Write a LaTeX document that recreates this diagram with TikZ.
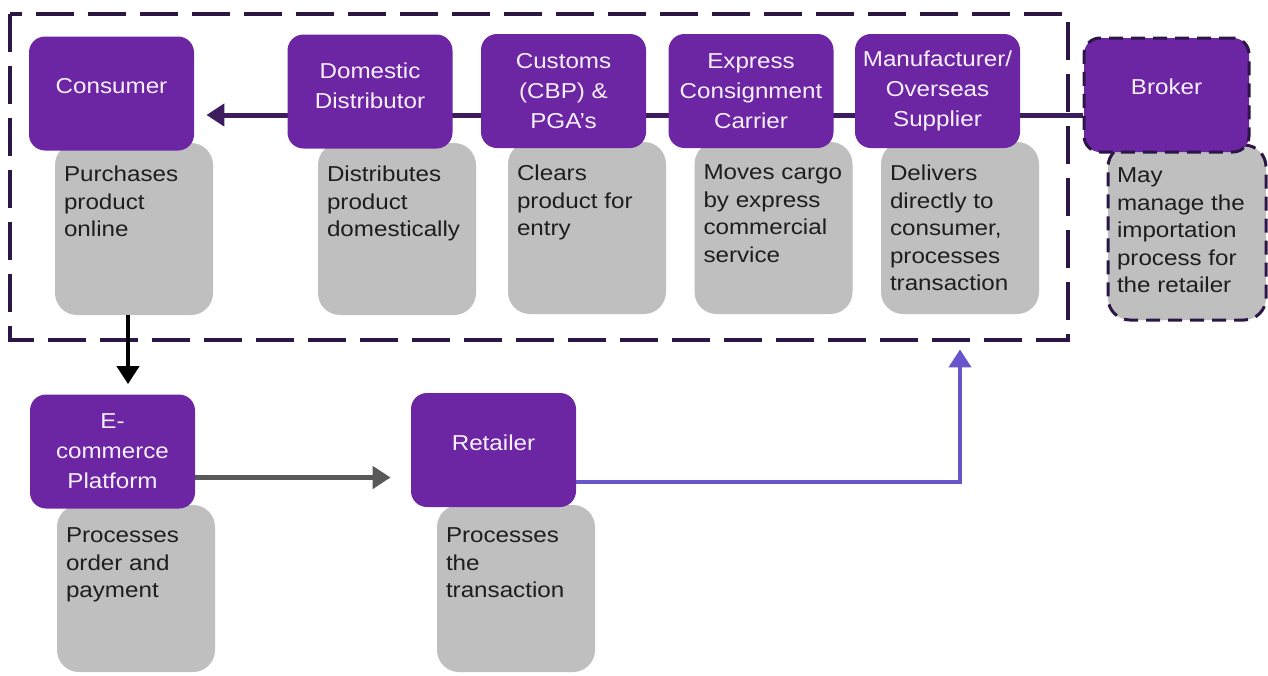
\documentclass[tikz,border=0pt]{standalone}
\usepackage{fontspec}
\setmainfont{Liberation Sans}[FakeStretch=1.12]
\usetikzlibrary{arrows.meta}
\usetikzlibrary{backgrounds}

\definecolor{boxpurple}{RGB}{108,38,163}
\definecolor{descgray}{RGB}{191,191,191}
\definecolor{framepurple}{RGB}{43,22,70}
\definecolor{flowpurple}{RGB}{60,28,95}
\definecolor{retailblue}{RGB}{104,84,204}
\definecolor{arrowgray}{RGB}{89,89,89}
\definecolor{textdark}{RGB}{30,30,30}
\definecolor{textlight}{RGB}{248,240,255}

\newcommand{\desctext}[2][86pt]{\parbox[c][#1][t]{70pt}{\raggedright\vspace*{11.5pt}#2}}

\begin{document}
\begin{tikzpicture}[x=0.5pt,y=-0.5pt]
    \tikzset{actor/.style = {shape=rectangle,rounded corners=8pt,fill=boxpurple,text=textlight,
        minimum width=82.5pt,minimum height=57pt,align=center,inner sep=2pt,
        font=\fontsize{10.8pt}{15pt}\selectfont}}
    \tikzset{desc/.style = {shape=rectangle,rounded corners=11pt,fill=descgray,text=textdark,
        inner xsep=4.5pt,inner ysep=0pt,font=\fontsize{10.8pt}{13.75pt}\selectfont}}
    \tikzset{dashbox/.style = {draw=framepurple,line width=1.5pt,dash pattern=on 7pt off 4pt}}
    \tikzset{frame/.style = {draw=framepurple,line width=2pt,dash pattern=on 19pt off 7pt}}
    \tikzset{edge/.style = {line width=2.5pt,-{Triangle[length=9pt,width=11pt]}}}

    \useasboundingbox (0,0) rectangle (1268,675);

    % frame
    \draw[frame] (10,14) rectangle (1068,340);

    % descriptions
    \node[desc] (cd) at (134,229) {\desctext{Purchases\\product\\online}};
    \node[desc] (dd) at (397,229) {\desctext{Distributes\\product\\domestically}};
    \node[desc] (pd) at (587,228) {\desctext{Clears\\product for\\entry}};
    \node[desc] (xd) at (773.5,228) {\desctext{Moves cargo\\by express\\commercial\\service}};
    \node[desc] (md) at (960,228) {\desctext{Delivers\\directly to\\consumer,\\processes\\transaction}};
    \node[desc,dashbox] (bd) at (1187,232.5) {\desctext[87.5pt]{May\\manage the\\importation\\process for\\the retailer}};
    \node[desc] (ed) at (136,588.5) {\desctext[83.5pt]{Processes\\order and\\payment}};
    \node[desc] (rd) at (516,588.5) {\desctext[83.5pt]{Processes\\the\\transaction}};

    % vertices
    \node[actor,text depth=8pt] (c) at (111.5,93.5) {Consumer};
    \node[actor,text depth=6pt] (d) at (370,91.5) {Domestic\\Distributor};
    \node[actor] (p) at (563.5,91) {Customs\\(CBP) \&\\PGA’s};
    \node[actor] (x) at (751,91) {Express\\Consignment\\Carrier};
    \node[actor] (m) at (937.5,91) {Manufacturer/\\Overseas\\Supplier};
    \node[actor,dashbox,text depth=8pt] (b) at (1166.5,95) {Broker};
    \node[actor] (e) at (112.5,451.5) {E-\\commerce\\Platform};
    \node[actor,text depth=7pt] (r) at (493.5,450) {Retailer};

    % edges
    \begin{scope}[on background layer]
    \draw[edge,flowpurple,shorten >=6pt] ([yshift=-10pt]b.west) -- ([yshift=-10pt]b.west -| c.east);
    \end{scope}
    \draw[edge,black,line width=2pt,shorten >=5pt] ([xshift=-3pt]cd.south) -- ([xshift=-3pt]cd.south |- e.north);
    \draw[edge,arrowgray,shorten >=10pt] ([yshift=-13pt]e.east) -- ([yshift=-13pt]e.east -| r.west);
    \draw[edge,retailblue,line width=2pt,shorten >=17.5pt] ([yshift=-16pt]r.east) -| (md.south);
\end{tikzpicture}
\end{document}
